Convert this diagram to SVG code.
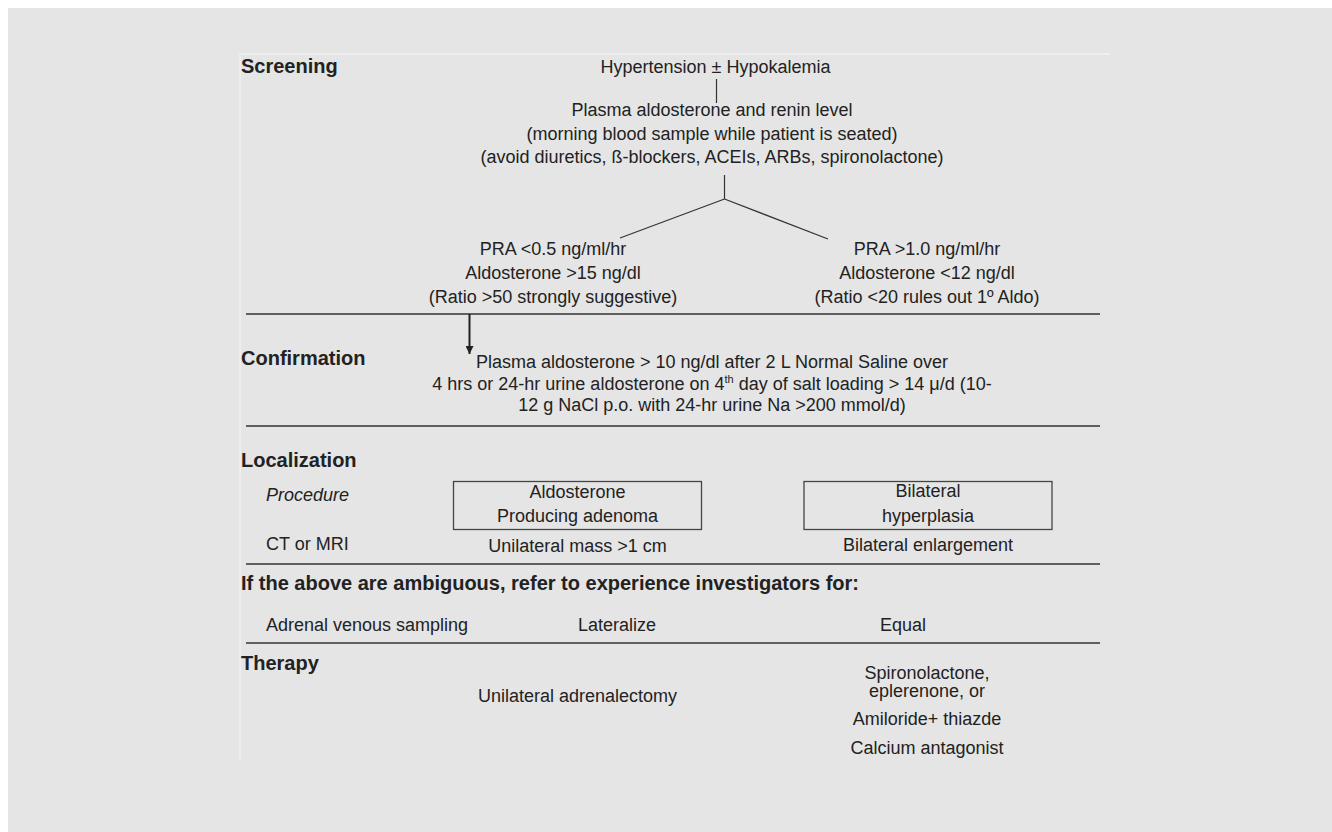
<svg xmlns="http://www.w3.org/2000/svg" width="1332" height="832" viewBox="0 0 1332 832">
  <style>
    text { font-family: "Liberation Sans", Arial, sans-serif; fill: #222; }
    .t { font-size: 18px; }
    .c { text-anchor: middle; }
    .h { font-size: 20px; font-weight: bold; }
    .i { font-style: italic; }
    .rule { stroke: #333; stroke-width: 1.3; fill: none; }
    .box { stroke: #444; stroke-width: 1.3; fill: none; }
    .edge { stroke: #333; stroke-width: 1.2; fill: none; }
  </style>
  <defs>
    <marker id="arrow" viewBox="0 0 10 10" refX="10" refY="5" markerWidth="8" markerHeight="8" markerUnits="userSpaceOnUse" orient="auto">
      <path d="M0,0 L10,5 L0,10 z" fill="#222"/>
    </marker>
  </defs>

  <!-- page background -->
  <rect x="0" y="0" width="1332" height="832" fill="#ffffff"/>
  <rect x="8" y="8" width="1324" height="824" fill="#e5e5e5"/>
  <!-- faint panel edge -->
  <path d="M240,761 V54 H1110" stroke="#eeeeee" stroke-width="2" fill="none"/>

  <!-- section dividers -->
  <g id="dividers">
    <line class="rule" x1="246" y1="314" x2="1100" y2="314"/>
    <line class="rule" x1="246" y1="426" x2="1100" y2="426"/>
    <line class="rule" x1="246" y1="564" x2="1100" y2="564"/>
    <line class="rule" x1="246" y1="643" x2="1100" y2="643"/>
  </g>

  <!-- section headings -->
  <g id="headings">
    <text class="h" x="241" y="73">Screening</text>
    <text class="h" x="241" y="365">Confirmation</text>
    <text class="h" x="241" y="467">Localization</text>
    <text class="h" x="241" y="590">If the above are ambiguous, refer to experience investigators for:</text>
    <text class="h" x="241" y="670">Therapy</text>
  </g>

  <!-- connectors -->
  <g id="connectors">
    <line class="edge" x1="716.5" y1="79" x2="716.5" y2="103"/>
    <line class="edge" x1="724.5" y1="175" x2="724.5" y2="199"/>
    <line class="edge" x1="724.5" y1="199" x2="620" y2="238"/>
    <line class="edge" x1="724.5" y1="199" x2="828" y2="239"/>
    <line x1="469.5" y1="314" x2="469.5" y2="354" stroke="#222" stroke-width="2" marker-end="url(#arrow)"/>
  </g>

  <!-- screening -->
  <g id="node-presentation">
    <text class="t c" x="715.5" y="73">Hypertension ± Hypokalemia</text>
  </g>
  <g id="node-screening-test">
    <text class="t c" x="712" y="116">Plasma aldosterone and renin level</text>
    <text class="t c" x="712" y="140">(morning blood sample while patient is seated)</text>
    <text class="t c" x="712" y="163">(avoid diuretics, ß-blockers, ACEIs, ARBs, spironolactone)</text>
  </g>
  <g id="node-suggestive">
    <text class="t c" x="553" y="255">PRA &lt;0.5 ng/ml/hr</text>
    <text class="t c" x="553" y="279">Aldosterone &gt;15 ng/dl</text>
    <text class="t c" x="553" y="303">(Ratio &gt;50 strongly suggestive)</text>
  </g>
  <g id="node-rules-out">
    <text class="t c" x="927" y="255">PRA &gt;1.0 ng/ml/hr</text>
    <text class="t c" x="927" y="279">Aldosterone &lt;12 ng/dl</text>
    <text class="t c" x="927" y="303">(Ratio &lt;20 rules out 1º Aldo)</text>
  </g>

  <!-- confirmation -->
  <g id="node-confirmation">
    <text class="t c" x="712" y="368">Plasma aldosterone &gt; 10 ng/dl after 2 L Normal Saline over</text>
    <text class="t c" x="712" y="390">4 hrs or 24-hr urine aldosterone on 4<tspan font-size="11" dy="-7">th</tspan><tspan dy="7"> day of salt loading &gt; 14 μ/d (10-</tspan></text>
    <text class="t c" x="712" y="411">12 g NaCl p.o. with 24-hr urine Na &gt;200 mmol/d)</text>
  </g>

  <!-- localization -->
  <g id="row-labels">
    <text class="t i" x="266" y="501">Procedure</text>
    <text class="t" x="266" y="550">CT or MRI</text>
    <text class="t" x="266" y="631">Adrenal venous sampling</text>
  </g>
  <g id="node-adenoma">
    <rect class="box" x="453.5" y="481.5" width="248" height="48"/>
    <text class="t c" x="577.5" y="498">Aldosterone</text>
    <text class="t c" x="577.5" y="522">Producing adenoma</text>
    <text class="t c" x="577.5" y="552">Unilateral mass &gt;1 cm</text>
  </g>
  <g id="node-hyperplasia">
    <rect class="box" x="804" y="481.5" width="248" height="48"/>
    <text class="t c" x="928" y="497">Bilateral</text>
    <text class="t c" x="928" y="522">hyperplasia</text>
    <text class="t c" x="928" y="551">Bilateral enlargement</text>
  </g>

  <!-- sampling result -->
  <g id="node-lateralize">
    <text class="t c" x="617" y="631">Lateralize</text>
  </g>
  <g id="node-equal">
    <text class="t c" x="903" y="631">Equal</text>
  </g>

  <!-- therapy -->
  <g id="node-surgery">
    <text class="t c" x="577.5" y="702">Unilateral adrenalectomy</text>
  </g>
  <g id="node-medical">
    <text class="t c" x="927" y="679">Spironolactone,</text>
    <text class="t c" x="927" y="697">eplerenone, or</text>
    <text class="t c" x="927" y="725">Amiloride+ thiazde</text>
    <text class="t c" x="927" y="754">Calcium antagonist</text>
  </g>
</svg>
